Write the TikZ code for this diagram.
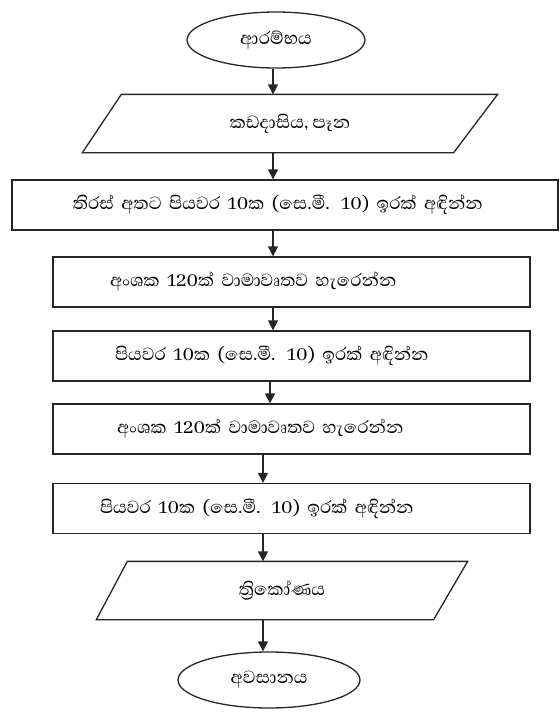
\documentclass[tikz,border=0pt]{standalone}
\usepackage{fontspec}
\setmainfont[Script=Sinhala]{Abhaya Libre}
\usetikzlibrary{shapes.geometric,arrows.meta}
\tikzset{
  base/.style={draw=black!85, line width=1.3pt, font=\fontsize{22.5}{26}\selectfont, inner sep=0pt},
  term/.style={base, ellipse, minimum width=178pt, minimum height=56pt},
  io/.style={base, draw=none, rectangle, minimum height=57pt},
  iobox/.style={draw=black!85, line width=1.3pt, line join=miter},
  proc/.style={base, rectangle, minimum height=50pt, align=left},
  arr/.style={draw=black!85, line width=1.3pt, -{Triangle[length=10pt,width=10pt]}}
}
\begin{document}
\begin{tikzpicture}[x=1pt,y=-1pt]
\useasboundingbox (0,0) rectangle (560,713);
\node[term] (start) at (276,40) {ආරම්භය};
\node[io, minimum width=414pt] (p1) at (290,123.5) {කඩදාසිය, පෑන};
\draw[iobox] ([xshift=39pt]p1.north west) -- (p1.north east) -- ([xshift=-44pt]p1.south east) -- (p1.south west) -- cycle;
\node[proc, text width=546pt] (r1) at (285,205) {\hspace*{61pt}තිරස් අතට පියවර 10ක (සෙ.මී. 10) ඉරක් අඳින්න};
\node[proc, text width=477pt] (r2) at (291.5,282) {\hspace*{57pt}අංශක 120ක් වාමාවෘතව හැරෙන්න};
\node[proc, text width=477pt] (r3) at (291.5,356) {\hspace*{62pt}පියවර 10ක (සෙ.මී. 10) ඉරක් අඳින්න};
\node[proc, text width=477pt] (r4) at (291.5,429) {\hspace*{64pt}අංශක 120ක් වාමාවෘතව හැරෙන්න};
\node[proc, text width=477pt] (r5) at (291.5,508.5) {\hspace*{47pt}පියවර 10ක (සෙ.මී. 10) ඉරක් අඳින්න};
\node[io, minimum width=370pt] (p2) at (282,590.5) {ත්‍රිකෝණය};
\draw[iobox] ([xshift=31pt]p2.north west) -- (p2.north east) -- ([xshift=-34pt]p2.south east) -- (p2.south west) -- cycle;
\node[term, minimum width=182pt] (stop) at (269,680) {අවසානය};
\coordinate (xa) at (273,0);
\coordinate (xb) at (270,0);
\coordinate (xc) at (263,0);
\draw[arr] (start.south -| xa) -- (p1.north -| xa);
\draw[arr] (p1.south -| xa) -- (r1.north -| xa);
\draw[arr] (r1.south -| xa) -- (r2.north -| xa);
\draw[arr] (r2.south -| xa) -- (r3.north -| xa);
\draw[arr] (r3.south -| xb) -- (r4.north -| xb);
\draw[arr] (r4.south -| xc) -- (r5.north -| xc);
\draw[arr] (r5.south -| xc) -- (p2.north -| xc);
\draw[arr] (p2.south -| xc) -- (stop.north -| xc);
\end{tikzpicture}
\end{document}
